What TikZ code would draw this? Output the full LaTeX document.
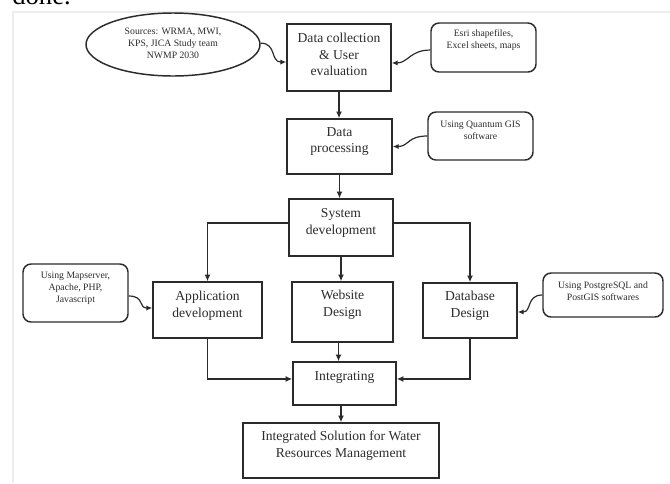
\documentclass[tikz,border=0pt]{standalone}
\usepackage{fontspec}
\setmainfont{Liberation Serif}
\usetikzlibrary{arrows.meta,shapes.geometric}
\definecolor{ink}{HTML}{2B2B2B}
\definecolor{frame}{HTML}{EDEDED}
\begin{document}
\begin{tikzpicture}[x=0.75pt,y=-0.75pt,
  mainbox/.style={draw=ink, line width=1.1pt, inner sep=0pt},
  sidebox/.style={draw=ink, line width=1.1pt, rounded corners=6pt, inner sep=0pt},
  mainlab/.style={font=\fontsize{10.2}{12.6}\selectfont, text=ink, align=center, inner sep=0pt},
  sidelab/.style={font=\fontsize{7.3}{9}\selectfont, text=ink, align=center, inner sep=0pt},
  conn/.style={draw=ink, line width=1pt, -{Latex[length=5pt,width=4.5pt]}},
  wave/.style={draw=ink, line width=0.9pt, -{Latex[length=4.5pt,width=4pt]}},
]
\useasboundingbox (0,0) rectangle (670,483);
% faint page frame
\draw[frame, line width=1.2pt] (670,12) -- (13,12) -- (13,483);
% cut-off text from the page above
\node[anchor=base west, inner sep=0pt, font=\fontsize{20}{20}\selectfont, text=black] (done) at (12,4) {done.};

% main chain
\node[mainbox, minimum width=104*0.75pt, minimum height=67*0.75pt,
  label={[mainlab, yshift=2.25pt]center:{Data collection\\\& User\\evaluation}}] (dc) at (339,57.5) {};
\node[mainbox, minimum width=105*0.75pt, minimum height=55*0.75pt,
  label={[mainlab, yshift=3.75pt]center:{Data\\processing}}] (dp) at (339.5,146.5) {};
\node[mainbox, minimum width=104*0.75pt, minimum height=57*0.75pt,
  label={[mainlab, yshift=3.4pt]center:{System\\development}}] (sd) at (341,227.5) {};
\node[mainbox, minimum width=109*0.75pt, minimum height=56*0.75pt,
  label={[mainlab, yshift=3.4pt]center:{Application\\development}}] (app) at (207.5,310) {};
\node[mainbox, minimum width=101*0.75pt, minimum height=60*0.75pt,
  label={[mainlab, yshift=5.25pt]center:{Website\\Design}}] (web) at (342.5,312) {};
\node[mainbox, minimum width=94*0.75pt, minimum height=55*0.75pt,
  label={[mainlab, yshift=3.75pt]center:{Database\\Design}}] (db) at (470,310.5) {};
\node[mainbox, minimum width=103*0.75pt, minimum height=43*0.75pt,
  label={[mainlab, yshift=4.9pt]center:{Integrating}}] (integ) at (344.5,383.5) {};
\node[mainbox, minimum width=196*0.75pt, minimum height=55*0.75pt,
  label={[mainlab, yshift=3.4pt]center:{Integrated Solution for Water\\Resources Management}}] (final) at (341,450.5) {};

% side notes
\node[draw=ink, line width=1.1pt, ellipse, inner sep=0pt, minimum width=174*0.75pt, minimum height=63*0.75pt,
  label={[sidelab, yshift=1.1pt]center:{Sources: WRMA, MWI,\\KPS, JICA Study team\\NWMP 2030}}] (ell) at (173,44.5) {};
\node[sidebox, minimum width=105*0.75pt, minimum height=49*0.75pt,
  label={[sidelab, yshift=5.25pt]center:{Esri shapefiles,\\Excel sheets, maps}}] (r1) at (483.5,47.5) {};
\node[sidebox, minimum width=105*0.75pt, minimum height=48*0.75pt,
  label={[sidelab, yshift=4.5pt]center:{Using Quantum GIS\\software}}] (r2) at (480.5,136) {};
\node[sidebox, minimum width=105*0.75pt, minimum height=58*0.75pt,
  label={[sidelab, yshift=3.75pt]center:{Using Mapserver,\\Apache, PHP,\\Javascript}}] (lb) at (75.5,293) {};
\node[sidebox, minimum width=120*0.75pt, minimum height=44*0.75pt,
  label={[sidelab, yshift=2.6pt]center:{Using PostgreSQL and\\PostGIS softwares}}] (rb) at (603,295) {};

% straight connectors
\draw[conn] (dc.south) -- (dc.south |- dp.north);
\draw[conn] (dp.south) -- (dp.south |- sd.north);
\draw[conn] (sd.south) -- (sd.south |- web.north);
\draw[conn] ([yshift=3.4pt]sd.west) -| (app.north);
\draw[conn] ([yshift=3.4pt]sd.east) -| (db.north);
\draw[conn] (app.south) |- ([yshift=3.4pt]integ.west);
\draw[conn] (db.south) |- ([yshift=3.4pt]integ.east);
\draw[conn] ([xshift=-3pt]web.south) -- ([xshift=-3pt]web.south |- integ.north);
\draw[conn] (final.north |- integ.south) -- (final.north);

% wavy connectors from the notes
\draw[wave] ([yshift=1pt]ell.east) .. controls +(16,0) and +(-16,0) .. ([yshift=-3.4pt]dc.west);
\draw[wave] ([yshift=-1.9pt]r1.west) .. controls +(-20,0) and +(16,0) .. ([yshift=-4.1pt]dc.east);
\draw[wave] (r2.west) .. controls +(-20,0) and +(16,0) .. (dp.east);
\draw[wave] ([yshift=-2.25pt]lb.east) .. controls +(16,0) and +(-14,0) .. ([yshift=1.5pt]app.west);
\draw[wave] (rb.west) .. controls +(-16,0) and +(14,0) .. ([yshift=-1.1pt]db.east);
\end{tikzpicture}
\end{document}
